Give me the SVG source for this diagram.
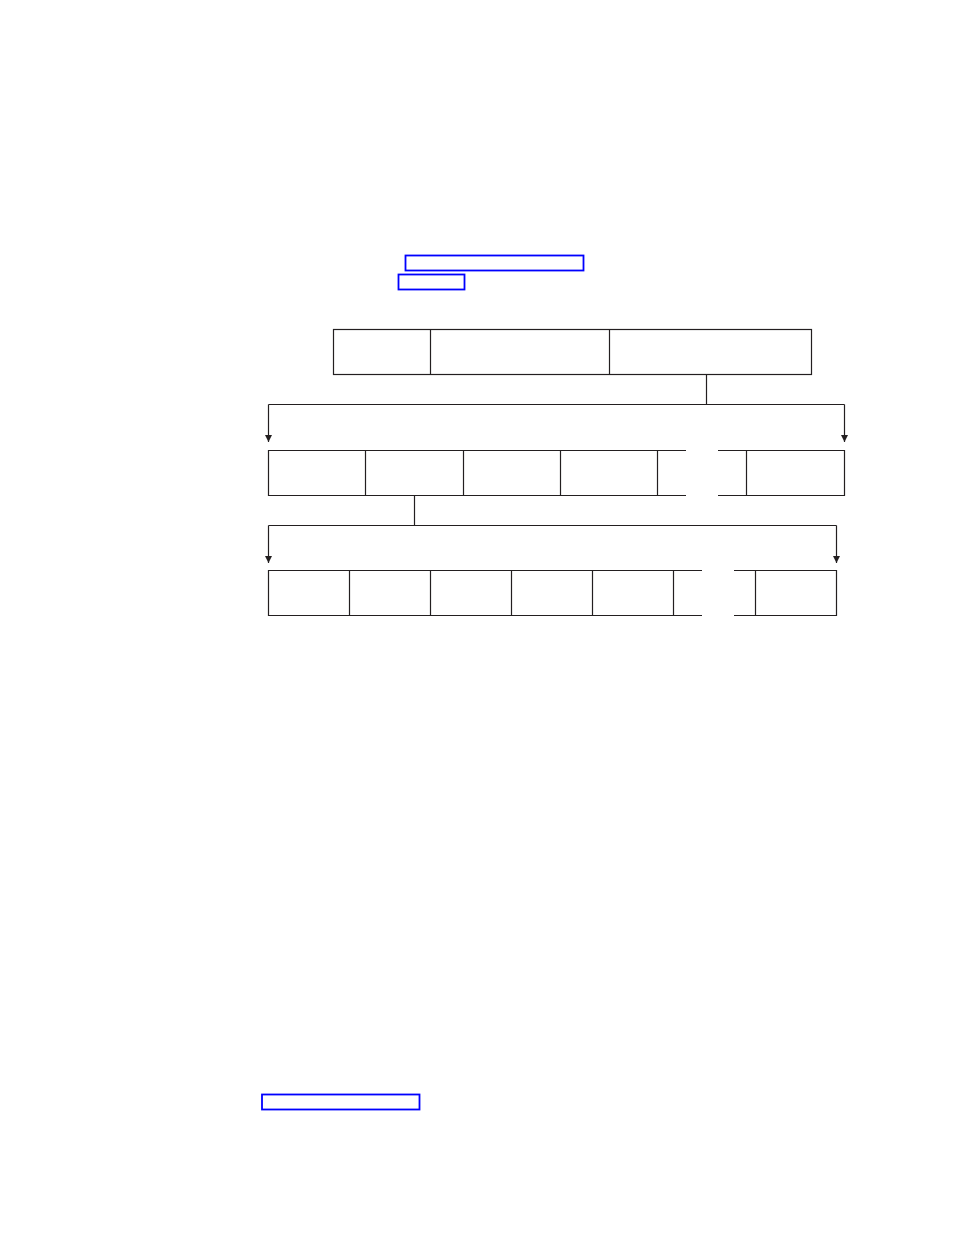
<svg xmlns="http://www.w3.org/2000/svg" width="954" height="1235" viewBox="0 0 954 1235">
<style>
.b{fill:none;stroke:#231f20;stroke-width:1.2}
.l{fill:none;stroke:#0000ff;stroke-width:1.8}
.c{fill:none;stroke:#231f20;stroke-width:1.2}
</style>
<defs>
<marker id="ah" viewBox="0 0 8 8" refX="8" refY="4" markerWidth="8" markerHeight="7" markerUnits="userSpaceOnUse" orient="auto">
<path d="M0,0 L8,4 L0,8 Z" fill="#231f20"/>
</marker>
</defs>
<rect width="954" height="1235" fill="#ffffff"/>
<g id="links">
<rect class="l" x="405.5" y="255.5" width="178" height="15"/>
<rect class="l" x="398.5" y="274.5" width="66" height="15"/>
<rect class="l" x="262" y="1094.5" width="157.5" height="15"/>
</g>
<g id="row1">
<rect class="b" x="333.5" y="329.5" width="478" height="45"/>
<line class="b" x1="430.5" y1="329.5" x2="430.5" y2="374.5"/>
<line class="b" x1="609.5" y1="329.5" x2="609.5" y2="374.5"/>
</g>
<g id="row2">
<path class="b" d="M686,450.5 H268.5 V495.5 H686"/>
<line class="b" x1="365.5" y1="450.5" x2="365.5" y2="495.5"/>
<line class="b" x1="463.5" y1="450.5" x2="463.5" y2="495.5"/>
<line class="b" x1="560.5" y1="450.5" x2="560.5" y2="495.5"/>
<line class="b" x1="657.5" y1="450.5" x2="657.5" y2="495.5"/>
<path class="b" d="M718,450.5 H844.5 V495.5 H718"/>
<line class="b" x1="746.5" y1="450.5" x2="746.5" y2="495.5"/>
</g>
<g id="row3">
<path class="b" d="M702,570.5 H268.5 V615.5 H702"/>
<line class="b" x1="349.5" y1="570.5" x2="349.5" y2="615.5"/>
<line class="b" x1="430.5" y1="570.5" x2="430.5" y2="615.5"/>
<line class="b" x1="511.5" y1="570.5" x2="511.5" y2="615.5"/>
<line class="b" x1="592.5" y1="570.5" x2="592.5" y2="615.5"/>
<line class="b" x1="673.5" y1="570.5" x2="673.5" y2="615.5"/>
<path class="b" d="M734,570.5 H836.5 V615.5 H734"/>
<line class="b" x1="755.5" y1="570.5" x2="755.5" y2="615.5"/>
</g>
<g id="connectors">
<line class="c" x1="706.5" y1="374.5" x2="706.5" y2="404.5"/>
<line class="c" x1="268.5" y1="404.5" x2="844.5" y2="404.5"/>
<line class="c" x1="268.5" y1="404.5" x2="268.5" y2="442" marker-end="url(#ah)"/>
<line class="c" x1="844.5" y1="404.5" x2="844.5" y2="442" marker-end="url(#ah)"/>
<line class="c" x1="414.5" y1="495.5" x2="414.5" y2="525.5"/>
<line class="c" x1="268.5" y1="525.5" x2="836.5" y2="525.5"/>
<line class="c" x1="268.5" y1="525.5" x2="268.5" y2="563" marker-end="url(#ah)"/>
<line class="c" x1="836.5" y1="525.5" x2="836.5" y2="563" marker-end="url(#ah)"/>
</g>
</svg>
